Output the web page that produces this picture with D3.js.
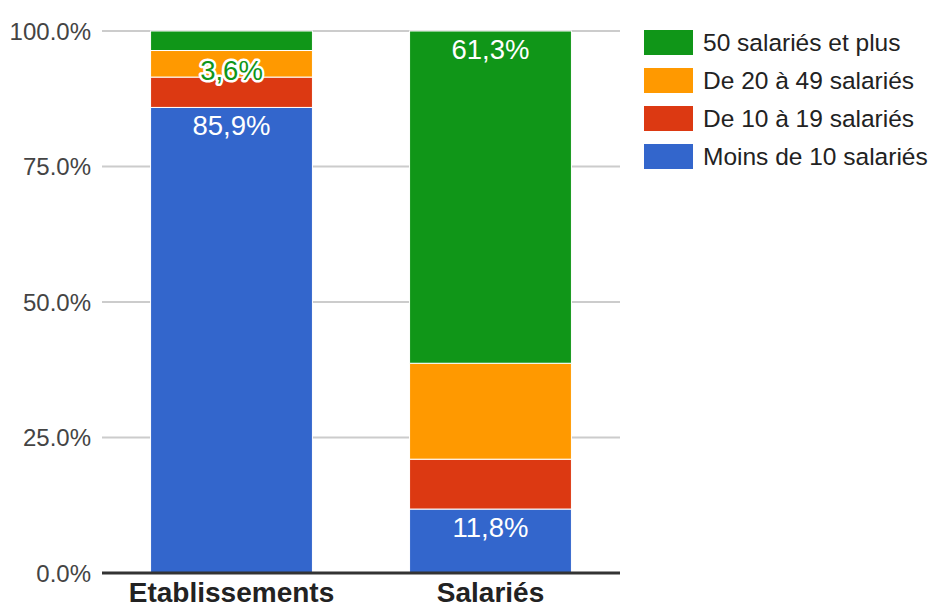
<!DOCTYPE html>
<html>
<head>
<meta charset="utf-8">
<script src="https://cdn.jsdelivr.net/npm/d3@7"></script>
<style>
  html, body { margin: 0; padding: 0; background: #fff; }
  svg { display: block; font-family: "Liberation Sans", Arial, sans-serif; }
</style>
</head>
<body>
<svg id="chart" width="929" height="607"></svg>
<script>
// ---- Data ----
const categories = ["Etablissements", "Salariés"];
const seriesNames = ["Moins de 10 salariés", "De 10 à 19 salariés", "De 20 à 49 salariés", "50 salariés et plus"];
const seriesColors = ["#3366cc", "#dc3912", "#ff9900", "#109618"];
const moins10 = [85.9, 11.8];
const de10a19 = [5.6, 9.2];
const de20a49 = [4.9, 17.7];
const plus50 = [3.6, 61.3];
const tickValues = [0, 25, 50, 75, 100];
const tickLabels = ["0.0%", "25.0%", "50.0%", "75.0%", "100.0%"];
// labels shown: [seriesIndex, categoryIndex, text, placement]
const dataLabels = [
  [0, 0, "85,9%", "inside"],
  [3, 0, "3,6%", "below"],
  [3, 1, "61,3%", "inside"],
  [0, 1, "11,8%", "inside"]
];

(function () {
const seriesValues = [moins10, de10a19, de20a49, plus50];
const rows = categories.map((c, i) => {
  const r = { cat: c };
  seriesNames.forEach((s, j) => r[s] = seriesValues[j][i]);
  return r;
});

const svg = d3.select("#chart");
const pLeft = 102, pRight = 620, pTop = 31, pBottom = 573;

const x = d3.scaleBand().domain(categories).range([pLeft, pRight]).paddingInner(0.375).paddingOuter(0.1875);
const y = d3.scaleLinear().domain([0, 100]).range([pBottom, pTop]);

// gridlines
svg.append("g").selectAll("line").data(tickValues.filter(v => v > 0)).join("line")
  .attr("x1", pLeft).attr("x2", pRight)
  .attr("y1", d => y(d)).attr("y2", d => y(d))
  .attr("stroke", "#cccccc").attr("stroke-width", 2);

// y tick labels
svg.append("g").selectAll("text").data(tickValues).join("text")
  .attr("x", 91).attr("y", d => y(d))
  .attr("dy", "0.36em")
  .attr("text-anchor", "end")
  .attr("font-size", 24)
  .attr("fill", "#444444")
  .text((d, i) => tickLabels[i]);

// stacked bars
const stack = d3.stack().keys(seriesNames);
const stacked = stack(rows);
svg.append("g").selectAll("g").data(stacked).join("g")
  .attr("fill", (d, i) => seriesColors[i])
  .selectAll("rect").data(d => d).join("rect")
  .attr("x", d => x(d.data.cat))
  .attr("width", x.bandwidth())
  .attr("y", d => y(d[1]))
  .attr("height", d => y(d[0]) - y(d[1]))
  .attr("stroke", "#ffffff").attr("stroke-width", 1);

// baseline axis
svg.append("line")
  .attr("x1", pLeft).attr("x2", pRight)
  .attr("y1", y(0)).attr("y2", y(0))
  .attr("stroke", "#333333").attr("stroke-width", 3);

// x labels
svg.append("g").selectAll("text").data(categories).join("text")
  .attr("x", d => x(d) + x.bandwidth() / 2)
  .attr("y", 602)
  .attr("text-anchor", "middle")
  .attr("font-size", 28)
  .attr("font-weight", "bold")
  .attr("fill", "#222222")
  .text(d => d);

// data labels
const lbl = svg.append("g");
dataLabels.forEach(([si, ci, txt, place]) => {
  const seg = stacked[si][ci];
  const cx = x(categories[ci]) + x.bandwidth() / 2;
  if (place === "inside") {
    lbl.append("text")
      .attr("x", cx).attr("y", y(seg[1]) + 28)
      .attr("text-anchor", "middle")
      .attr("font-size", 27.5)
      .attr("fill", "#ffffff")
      .text(txt);
  } else {
    const ty = y(seg[0]) + 29;
    lbl.append("text")
      .attr("x", cx).attr("y", ty)
      .attr("text-anchor", "middle")
      .attr("font-size", 27.5)
      .attr("fill", "none")
      .attr("stroke", "#ffffff").attr("stroke-width", 5)
      .attr("stroke-linejoin", "round")
      .text(txt);
    lbl.append("text")
      .attr("x", cx).attr("y", ty)
      .attr("text-anchor", "middle")
      .attr("font-size", 27.5)
      .attr("fill", seriesColors[si])
      .text(txt);
  }
});

// legend (reverse order: top = last series)
const legendOrder = [3, 2, 1, 0];
const lg = svg.append("g").selectAll("g").data(legendOrder).join("g")
  .attr("transform", (d, i) => `translate(644, ${30 + i * 38})`);
lg.append("rect").attr("width", 49).attr("height", 25).attr("fill", d => seriesColors[d]);
lg.append("text").attr("x", 59).attr("y", 21)
  .attr("font-size", 24.5).attr("fill", "#222222")
  .text(d => seriesNames[d]);
})();
</script>
</body>
</html>
